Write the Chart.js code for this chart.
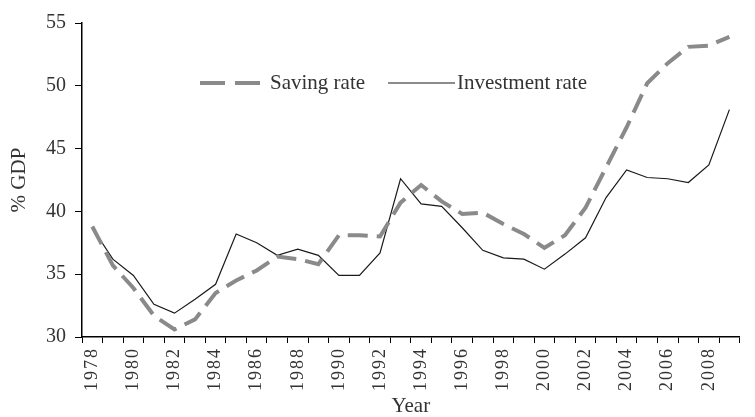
<!DOCTYPE html>
<html>
<head>
<meta charset="utf-8">
<script src="https://cdn.jsdelivr.net/npm/chart.js@4/dist/chart.umd.min.js"></script>
<style>
  html, body { margin: 0; padding: 0; background: #fff; overflow: hidden; }
  #wrap { width: 755px; height: 417px; position: relative; }
</style>
</head>
<body>
<div id="wrap"><canvas id="myChart"></canvas></div>
<script>
// years 1978 - 2009
const years = ['1978', '1979', '1980', '1981', '1982', '1983', '1984', '1985', '1986', '1987',
  '1988', '1989', '1990', '1991', '1992', '1993', '1994', '1995', '1996', '1997',
  '1998', '1999', '2000', '2001', '2002', '2003', '2004', '2005', '2006', '2007',
  '2008', '2009'];

// saving rate (% GDP)
const savingRate = [38.8, 35.7, 33.9, 31.7, 30.6, 31.4, 33.5, 34.5, 35.3, 36.4,
  36.2, 35.8, 38.1, 38.1, 38.0, 40.7, 42.1, 40.8, 39.8, 39.9,
  39.0, 38.2, 37.1, 38.1, 40.3, 43.5, 46.7, 50.2, 51.8, 53.1,
  53.2, 53.9];

// investment rate (% GDP)
const investmentRate = [38.7, 36.2, 34.9, 32.6, 31.9, 33.0, 34.2, 38.2, 37.5, 36.5,
  37.0, 36.5, 34.9, 34.9, 36.7, 42.6, 40.6, 40.4, 38.7, 36.9,
  36.3, 36.2, 35.4, 36.6, 37.9, 41.1, 43.3, 42.7, 42.6, 42.3,
  43.7, 48.1];

const seriesNames = ['Saving rate', 'Investment rate'];

const serif = '"Liberation Serif", "Times New Roman", serif';
const textColor = '#333';

// legend drawn inside the plot, like the original figure
const innerLegend = {
  id: 'innerLegend',
  afterDraw(chart) {
    const ctx = chart.ctx;
    const y = 83;
    ctx.save();
    // dashed sample
    ctx.strokeStyle = '#8a8a8a';
    ctx.lineWidth = 4;
    ctx.setLineDash([25, 10]);
    ctx.beginPath();
    ctx.moveTo(200, y);
    ctx.lineTo(260, y);
    ctx.stroke();
    // solid sample
    ctx.setLineDash([]);
    ctx.strokeStyle = '#1a1a1a';
    ctx.lineWidth = 1.2;
    ctx.beginPath();
    ctx.moveTo(388, y);
    ctx.lineTo(455, y);
    ctx.stroke();
    // texts
    ctx.fillStyle = textColor;
    ctx.font = '21px ' + serif;
    ctx.textBaseline = 'middle';
    ctx.textAlign = 'left';
    ctx.fillText(seriesNames[0], 270, y);
    ctx.fillText(seriesNames[1], 457, y);
    ctx.restore();
  }
};

// year labels in the original are a bit letter-spaced
const spacedYearLabels = {
  id: 'spacedYearLabels',
  afterUpdate(chart) {
    const xs = chart.scales.x;
    if (xs._spaced) return;
    const orig = xs.drawLabels;
    xs.drawLabels = function (area) {
      const c = this.ctx;
      c.save();
      c.letterSpacing = '2px';
      orig.call(this, area);
      c.restore();
    };
    xs._spaced = true;
  }
};

const ctx = document.getElementById('myChart').getContext('2d');

const myChart = new Chart(ctx, {
  type: 'line',
  data: {
    labels: years,
    datasets: [{
      label: seriesNames[0],
      data: savingRate,
      borderColor: '#8a8a8a',
      borderWidth: 4,
      borderDash: [20, 9],
      pointRadius: 0,
      fill: false,
      tension: 0
    }, {
      label: seriesNames[1],
      data: investmentRate,
      borderColor: '#1a1a1a',
      borderWidth: 1.2,
      pointRadius: 0,
      fill: false,
      tension: 0
    }]
  },
  options: {
    responsive: true,
    maintainAspectRatio: false,
    animation: false,
    layout: {
      padding: { top: 23, right: -2, bottom: 0, left: 0 }
    },
    plugins: {
      legend: { display: false },
      tooltip: { enabled: false }
    },
    scales: {
      x: {
        type: 'category',
        offset: true,
        grid: {
          offset: true,
          drawOnChartArea: false,
          drawTicks: true,
          tickLength: 6,
          color: '#000'
        },
        border: { color: '#000', width: 1.5 },
        ticks: {
          autoSkip: false,
          maxRotation: 90,
          minRotation: 90,
          padding: 4,
          color: textColor,
          font: { family: serif, size: 18 },
          callback: function (value, index) {
            // label every second year
            return index % 2 === 0 ? this.getLabelForValue(value) : '';
          }
        },
        title: {
          display: true,
          text: 'Year',
          color: textColor,
          font: { family: serif, size: 21 },
          padding: { top: 0, bottom: -2 }
        },
        afterFit(scale) {
          scale.height = 80;
        }
      },
      y: {
        min: 30,
        max: 55,
        grid: {
          drawOnChartArea: false,
          drawTicks: true,
          tickLength: 7,
          color: '#000'
        },
        border: { color: '#000', width: 1.5 },
        ticks: {
          stepSize: 5,
          padding: 9,
          color: textColor,
          font: { family: serif, size: 20 }
        },
        title: {
          display: true,
          text: '% GDP',
          color: textColor,
          font: { family: serif, size: 21 },
          padding: { top: 7, bottom: 0 }
        },
        afterFit(scale) {
          scale.width = 82;
        }
      }
    }
  },
  plugins: [innerLegend, spacedYearLabels]
});
</script>
</body>
</html>
